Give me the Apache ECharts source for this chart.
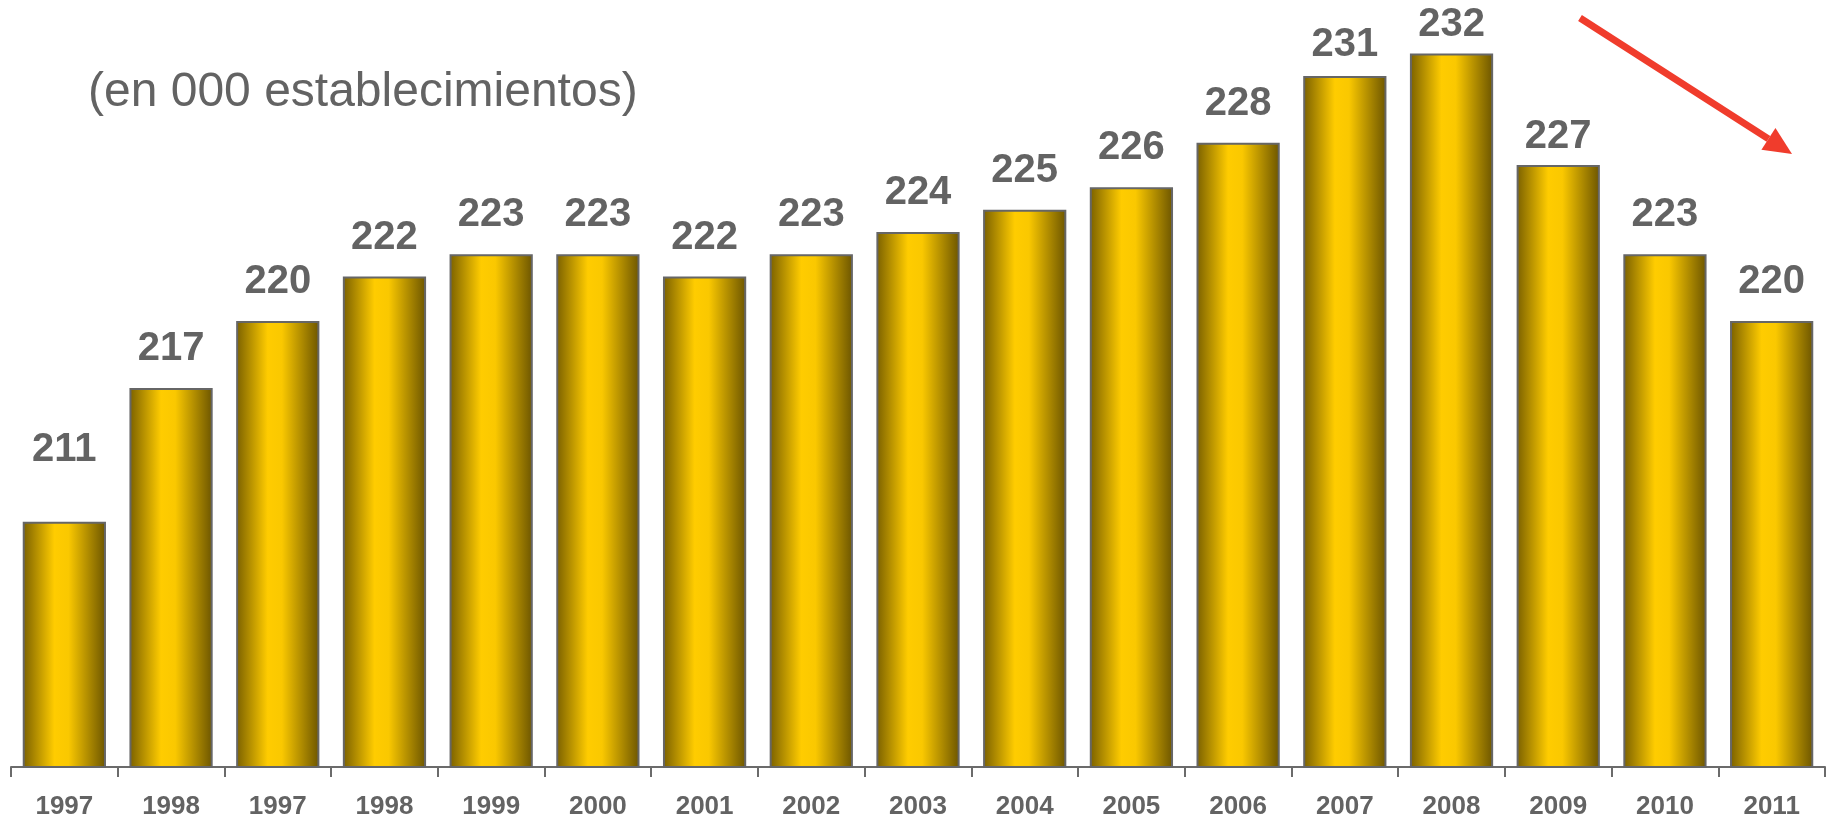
<!DOCTYPE html>
<html>
<head>
<meta charset="utf-8">
<title>Establecimientos</title>
<script src="https://cdn.jsdelivr.net/npm/echarts@6/dist/echarts.min.js"></script>
<style>
  html, body { margin: 0; padding: 0; background: #fff; }
  #chart { width: 1830px; height: 824px; }
</style>
</head>
<body>
<div id="chart"></div>
<script>
// años (tal cual aparecen en el gráfico original, con 1997/1998 repetidos)
const years = ['1997', '1998', '1997', '1998', '1999', '2000', '2001', '2002', '2003',
  '2004', '2005', '2006', '2007', '2008', '2009', '2010', '2011'];
// miles de establecimientos
const establecimientos = [211, 217, 220, 222, 223, 223, 222, 223, 224, 225, 226, 228, 231, 232, 227, 223, 220];
const subtitle = '(en 000 establecimientos)';

const FONT = 'Liberation Sans, Arial, sans-serif';
const GREY = '#636363';

const chart = echarts.init(document.getElementById('chart'));

// degradado horizontal tipo "cilindro" dorado
const barGradient = new echarts.graphic.LinearGradient(0, 0, 1, 0, [
  { offset: 0, color: '#7a6000' },
  { offset: 0.38, color: '#ffcc00' },
  { offset: 0.55, color: '#fac800' },
  { offset: 1, color: '#6c5500' }
]);

// en el original algunas etiquetas no quedan a la misma distancia de su barra
const labelDistance = { 0: 52, 12: 11, 13: 9, 14: 8 };
const barData = establecimientos.map(function (v, i) {
  return labelDistance[i] != null ? { value: v, label: { distance: labelDistance[i] } } : v;
});

// flecha roja de tendencia (decoración)
const tip = [1792, 154];
const start = [1580, 18];
const dx = tip[0] - start[0], dy = tip[1] - start[1];
const len = Math.sqrt(dx * dx + dy * dy);
const ux = dx / len, uy = dy / len;
const headLen = 28, headHalf = 13;
const base = [tip[0] - ux * headLen, tip[1] - uy * headLen];

const option = {
  animation: false,
  grid: { left: 11, right: 5, top: 9, bottom: 57, containLabel: false },
  xAxis: {
    type: 'category',
    data: years,
    axisLine: { lineStyle: { color: '#6b6b6b', width: 2 } },
    axisTick: { show: true, length: 10, lineStyle: { color: '#6b6b6b', width: 2 } },
    axisLabel: {
      interval: 0,
      margin: 27,
      color: GREY,
      fontFamily: FONT,
      fontWeight: 'bold',
      fontSize: 26
    }
  },
  yAxis: {
    type: 'value',
    min: 200,
    max: 234,
    show: false,
    splitLine: { show: false }
  },
  series: [{
    type: 'bar',
    data: barData,
    barWidth: '78%',
    itemStyle: {
      color: barGradient,
      borderColor: '#666666',
      borderWidth: 2
    },
    label: {
      show: true,
      position: 'top',
      distance: 19,
      color: GREY,
      fontFamily: FONT,
      fontWeight: 'bold',
      fontSize: 40
    }
  }],
  graphic: [
    {
      type: 'text',
      left: 88,
      top: 69,
      style: {
        text: subtitle,
        fill: GREY,
        font: '48px ' + FONT
      }
    },
    {
      type: 'line',
      shape: { x1: start[0], y1: start[1], x2: base[0], y2: base[1] },
      style: { stroke: '#f03c2c', lineWidth: 7 }
    },
    {
      type: 'polygon',
      shape: {
        points: [
          tip,
          [base[0] - uy * headHalf, base[1] + ux * headHalf],
          [base[0] + uy * headHalf, base[1] - ux * headHalf]
        ]
      },
      style: { fill: '#f03c2c' }
    }
  ]
};

chart.setOption(option);
</script>
</body>
</html>
